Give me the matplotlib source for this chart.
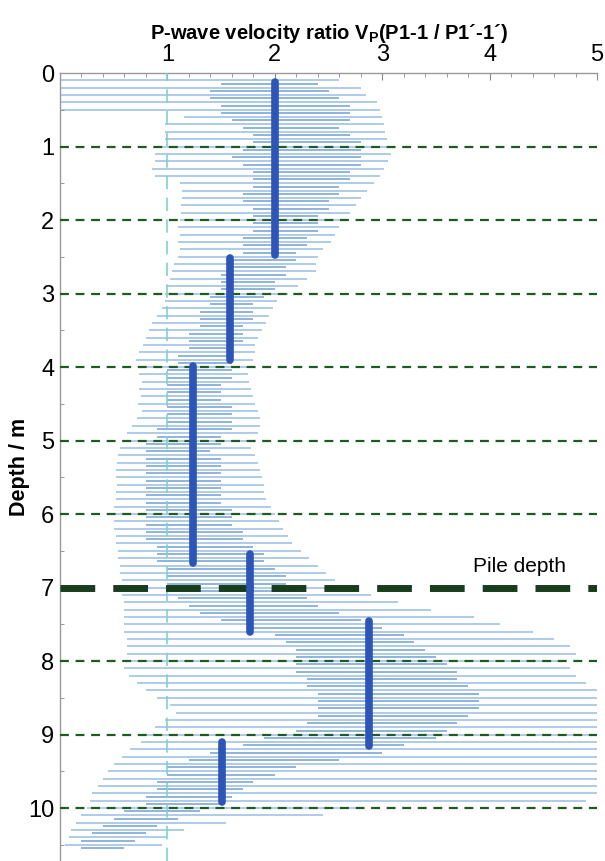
import matplotlib.pyplot as plt
import numpy as np

# depth of each measurement line (m)
depth = [0.1, 0.2, 0.3, 0.4, 0.5, 0.6, 0.7, 0.8, 0.9, 1.0,
         1.1, 1.2, 1.3, 1.4, 1.5, 1.6, 1.7, 1.8, 1.9, 2.0,
         2.1, 2.2, 2.3, 2.4, 2.5, 2.6, 2.7, 2.8, 2.9, 3.0,
         3.1, 3.2, 3.3, 3.4, 3.5, 3.6, 3.7, 3.8, 3.9, 4.0,
         4.1, 4.2, 4.3, 4.4, 4.5, 4.6, 4.7, 4.8, 4.9, 5.0,
         5.1, 5.2, 5.3, 5.4, 5.5, 5.6, 5.7, 5.8, 5.9, 6.0,
         6.1, 6.2, 6.3, 6.4, 6.5, 6.6, 6.7, 6.8, 6.9, 7.0,
         7.1, 7.2, 7.3, 7.4, 7.5, 7.6, 7.7, 7.8, 7.9, 8.0,
         8.1, 8.2, 8.3, 8.4, 8.5, 8.6, 8.7, 8.8, 8.9, 9.0,
         9.1, 9.2, 9.3, 9.4, 9.5, 9.6, 9.7, 9.8, 9.9, 10.0,
         10.1, 10.2, 10.3, 10.4, 10.5]

# outer range (min / max ratio) at each depth
ratio_min = [0.0, 0.0, 0.0, 0.0, 0.0, 1.15, 0.98, 0.98, 0.98, 0.95,
             0.88, 0.88, 0.86, 0.88, 1.12, 1.14, 1.14, 1.13, 1.13, 1.12,
             1.10, 1.12, 1.10, 1.12, 1.10, 1.06, 1.04, 1.02, 1.00, 0.98,
             0.98, 0.95, 0.90, 0.86, 0.83, 0.80, 0.77, 0.74, 0.71, 0.73,
             0.74, 0.76, 0.74, 0.75, 0.73, 0.76, 0.72, 0.67, 0.62, 0.58,
             0.56, 0.54, 0.53, 0.52, 0.52, 0.53, 0.52, 0.52, 0.50, 0.50,
             0.50, 0.50, 0.52, 0.52, 0.54, 0.54, 0.56, 0.56, 0.58, 0.58,
             0.58, 0.60, 0.60, 0.60, 0.60, 0.60, 0.62, 0.62, 0.62, 0.60,
             0.60, 0.64, 0.72, 0.80, 0.90, 1.02, 1.08, 0.98, 0.88, 0.80,
             0.75, 0.65, 0.58, 0.50, 0.45, 0.40, 0.35, 0.30, 0.28, 0.25,
             0.20, 0.15, 0.10, 0.08, 0.05]
ratio_max = [2.60, 2.80, 2.85, 2.95, 2.98, 3.00, 3.02, 3.03, 3.04, 3.05,
             3.08, 3.05, 3.02, 2.98, 2.92, 2.86, 2.80, 2.76, 2.70, 2.64,
             2.60, 2.56, 2.52, 2.45, 2.40, 2.38, 2.38, 2.30, 2.22, 2.12,
             2.02, 1.98, 1.95, 1.92, 1.88, 1.84, 1.82, 1.82, 1.80, 1.78,
             1.75, 1.76, 1.78, 1.80, 1.82, 1.84, 1.86, 1.86, 1.84, 1.80,
             1.78, 1.82, 1.84, 1.86, 1.88, 1.90, 1.90, 1.92, 1.96, 2.00,
             2.04, 2.08, 2.12, 2.16, 2.24, 2.32, 2.40, 2.48, 2.56, 2.64,
             2.90, 3.15, 3.45, 3.85, 4.10, 4.40, 4.60, 4.75, 4.80, 4.70,
             4.75, 4.80, 4.90, 5.00, 5.00, 5.00, 5.00, 5.00, 5.00, 5.00,
             5.00, 5.00, 5.00, 5.00, 5.00, 5.00, 5.00, 5.00, 4.90, 2.75,
             2.45, 1.55, 1.15, 1.00, 0.95]

# denser inner band where most traces overlap
core_min = [1.5, 1.4, 1.4, 1.5, 1.5, 1.6, 1.7, 1.8, 1.8, 1.7,
            1.6, 1.7, 1.8, 1.8, 1.8, 1.7, 1.7, 1.8, 1.8, 1.8,
            1.8, 1.7, 1.7, 1.7, 1.6, 1.6, 1.5, 1.5, 1.5, 1.4,
            1.4, 1.3, 1.3, 1.3, 1.2, 1.2, 1.2, 1.1, 1.1, 1.0,
            1.0, 1.0, 1.0, 1.0, 1.0, 1.0, 1.0, 0.9, 0.9, 0.8,
            0.8, 0.8, 0.8, 0.8, 0.8, 0.8, 0.8, 0.8, 0.8, 0.8,
            0.8, 0.8, 0.8, 0.9, 0.9, 0.9, 1.0, 1.0, 1.0, 1.0,
            1.1, 1.2, 1.3, 1.5, 1.8, 2.0, 2.1, 2.2, 2.2, 2.2,
            2.2, 2.3, 2.3, 2.4, 2.4, 2.4, 2.4, 2.3, 2.2, 1.9,
            1.7, 1.4, 1.2, 1.0, 1.0, 0.9, 0.9, 0.8, 0.8, 0.6,
            0.5, 0.4, 0.3, 0.2, 0.2]
core_max = [2.4, 2.5, 2.6, 2.7, 2.7, 2.7, 2.6, 2.7, 2.8, 2.8,
            2.8, 2.8, 2.7, 2.7, 2.6, 2.6, 2.5, 2.5, 2.4, 2.4,
            2.4, 2.3, 2.3, 2.2, 2.2, 2.1, 2.1, 2.0, 2.0, 1.9,
            1.8, 1.8, 1.8, 1.7, 1.7, 1.7, 1.6, 1.6, 1.6, 1.6,
            1.6, 1.5, 1.5, 1.5, 1.6, 1.6, 1.6, 1.6, 1.5, 1.5,
            1.4, 1.5, 1.5, 1.5, 1.5, 1.5, 1.5, 1.5, 1.6, 1.6,
            1.6, 1.7, 1.7, 1.8, 1.9, 1.9, 2.0, 2.1, 2.1, 2.2,
            2.3, 2.4, 2.6, 2.8, 3.0, 3.2, 3.3, 3.4, 3.5, 3.6,
            3.7, 3.7, 3.8, 3.9, 3.9, 3.9, 3.8, 3.7, 3.6, 3.5,
            3.2, 3.0, 2.6, 2.2, 2.0, 1.8, 1.7, 1.6, 1.5, 1.3,
            1.1, 0.9, 0.8, 0.7, 0.6]

# mean ratio per layer: (ratio, top, bottom)
layer_ratio = [2.0, 1.58, 1.24, 1.77, 2.88, 1.51]
layer_top = [0.12, 2.52, 3.98, 6.55, 7.45, 9.1]
layer_bottom = [2.48, 3.9, 6.66, 7.6, 9.15, 9.92]

grid_depths = [1, 2, 3, 4, 5, 6, 8, 9, 10]
pile_depth = 7

plt.rcParams['font.family'] = ['Liberation Sans', 'DejaVu Sans']

fig = plt.figure(figsize=(6.05, 8.61), dpi=100)
ax = fig.add_axes([0.0992, 0.0, 0.8876, 0.9152])

d = np.array(depth)
ax.hlines(d, ratio_min, ratio_max, color='#aecbea', lw=1.4, zorder=1)
ax.hlines(d + 0.045, core_min, core_max, color='#8fb3dc', lw=1.4, zorder=2)

# reference line at ratio 1
ax.axvline(1, color='#7dd3cc', lw=1.2, ls=(0, (8, 5)), zorder=3)

for g in grid_depths:
    ax.axhline(g, color='#1f5a22', lw=1.6, ls=(0, (4, 3)), zorder=4)
ax.axhline(pile_depth, color='#173d1c', lw=5, ls=(0, (5, 2.6)), zorder=4)

for x, t, b in zip(layer_ratio, layer_top, layer_bottom):
    ax.plot([x, x], [t, b], color='#2c55b5', lw=5.5,
            solid_capstyle='round', zorder=5)

ax.text(4.28, 6.72, 'Pile depth', fontsize=15, ha='center', va='center')

ax.set_xlim(0, 5)
ax.set_ylim(10.72, 0)
ax.xaxis.tick_top()
ax.xaxis.set_label_position('top')
ax.set_xticks([1, 2, 3, 4, 5])
ax.set_xticks(np.arange(0, 5.01, 0.2), minor=True)
ax.set_yticks(range(0, 11))
ax.set_yticks(np.arange(0.5, 10.6, 1.0), minor=True)
ax.tick_params(axis='both', which='both', direction='in', color='#888888')
ax.tick_params(axis='x', which='major', length=5, labelsize=17, pad=5)
ax.tick_params(axis='x', which='minor', length=3)
ax.tick_params(axis='y', which='major', length=0, labelsize=17, pad=4)
ax.tick_params(axis='y', which='minor', length=3)

for s in ['right', 'bottom']:
    ax.spines[s].set_visible(False)
for s in ['left', 'top']:
    ax.spines[s].set_color('#999999')
    ax.spines[s].set_linewidth(1.0)

ax.set_xlabel('P-wave velocity ratio V$_{\\mathregular{P}}$(P1-1 / P1\u00b4-1\u00b4)',
              fontsize=14.5, fontweight='bold', labelpad=4)
ax.set_ylabel('Depth / m', fontsize=15.5, fontweight='bold', labelpad=-1)

fig.savefig('out.png', dpi=100)
